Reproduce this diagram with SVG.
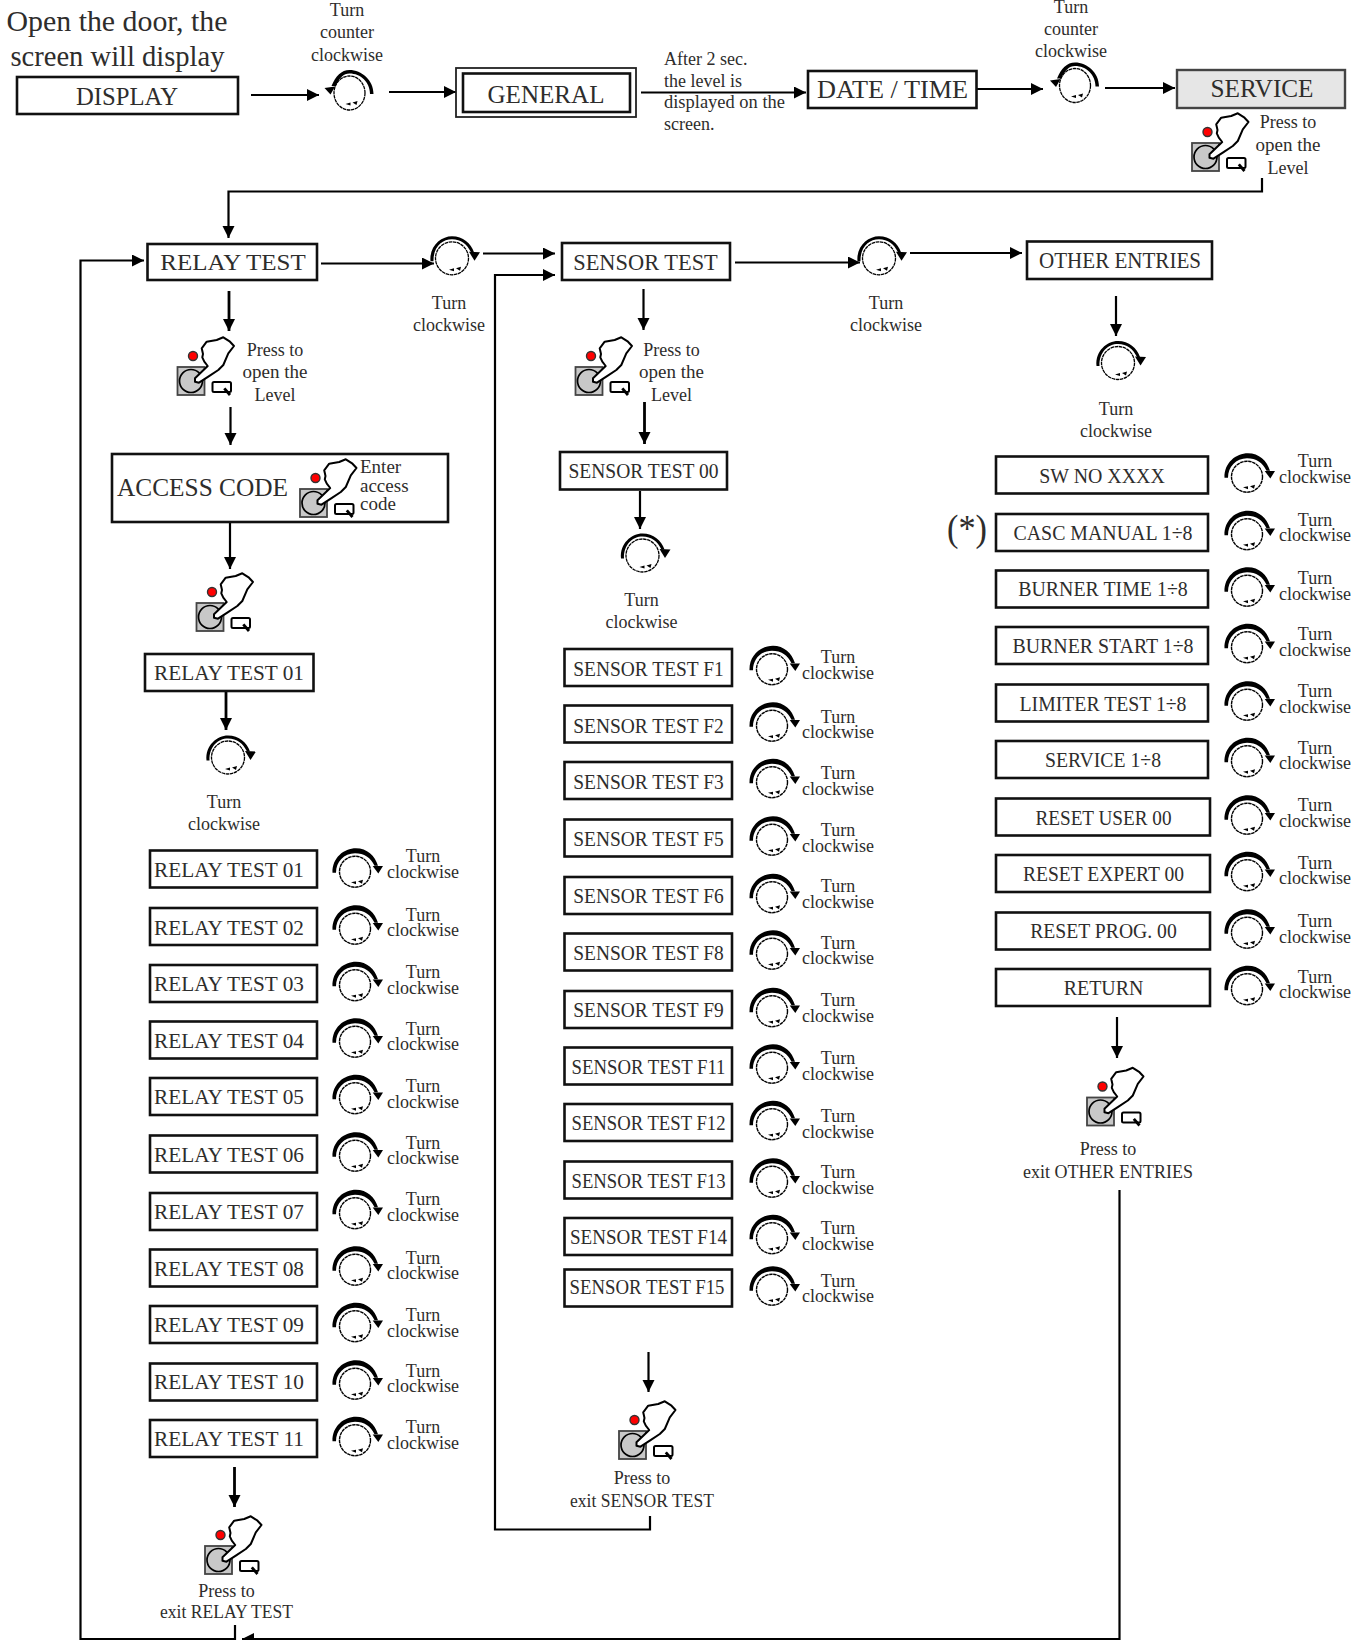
<svg xmlns="http://www.w3.org/2000/svg" width="1359" height="1640" viewBox="0 0 1359 1640">
<style>
text{font-family:"Liberation Serif","Times New Roman",serif;fill:#2e2d2c}
.t{font-size:18px;text-anchor:middle}
.o{font-size:19px;text-anchor:middle}
.tl{font-size:18px}
.r{font-size:20.5px;text-anchor:middle}
.h{font-size:24px;text-anchor:middle}
.b{fill:#fff;stroke:#111;stroke-width:2.6}
.c{fill:none;stroke:#000;stroke-width:2.2}
.c2{fill:none;stroke:#000;stroke-width:2.8}
</style>
<defs>
<marker id="a" markerUnits="userSpaceOnUse" markerWidth="14" markerHeight="14" refX="12" refY="6" orient="auto"><path d="M0,0L12,6L0,12Z" fill="#000"/></marker>
<g id="hand">
<rect x="0" y="0" width="27" height="28" fill="#c8c8c8" stroke="#444" stroke-width="1.8"/>
<circle cx="13.500" cy="14" r="11.500" fill="#c8c8c8" stroke="#000" stroke-width="1.7"/>
<path d="M17.500,11.300L30.200,-1L26.800,-5.300L24.800,-9.700L25.500,-13L24.200,-18.700L29.200,-25.300L39.200,-27L45.800,-29.700L52.500,-25.300L56.500,-21L50.800,-13.700L45.800,-2L40.800,3L30.800,9.700L21.500,15.700L17.500,14.700Z" fill="#fff" stroke="#000" stroke-width="2" stroke-linejoin="round"/>
<circle cx="15.500" cy="-11" r="4.500" fill="#f00" stroke="#333" stroke-width="1.400"/>
<rect x="35" y="15" width="18.500" height="10" rx="1.500" fill="#fff" stroke="#000" stroke-width="2"/>
<path d="M46.800,21.300L52.500,28" fill="none" stroke="#000" stroke-width="2.800"/>
</g>
<g id="cw">
<g transform="translate(1,1.700)">
<circle r="15.500" fill="#fff" stroke="#000" stroke-width="1.400" stroke-dasharray="3.500 .6"/>
<path d="M-22.500,1C-23,-14 -11,-23.500 1,-23.500C12,-23.500 20,-16 23,-6L19.500,-6C16,-14 9,-18.500 0,-18.500C-11,-18.500 -19,-10 -19,1Z" fill="#000"/>
<path d="M17.700,-5.700L28,-5.700L23.300,1.700Z" fill="#000"/>
<path d="M-4,10.500L1,9.500L1,12.500ZM3,9.500L8,8L7,12Z" fill="#000"/>
</g>
</g>
<g id="cw2">
<circle r="16.500" fill="#fff" stroke="#000" stroke-width="1.300" stroke-dasharray="3.500 .6"/>
<path d="M-21.500,3C-23,-12 -11,-22 0,-22C11,-22 19,-15 22,-6L19,-6C15,-14 9,-19 0,-19C-10,-19 -19,-11 -18.500,3Z" fill="#000"/>
<path d="M17,-6.500L28,-6L22.500,2.500Z" fill="#000"/>
<path d="M-3,11.500L2,10L2,13ZM4,10L9,8.500L8,12.500Z" fill="#000"/>
</g>
<g id="ccw">
<ellipse rx="15.500" ry="17" fill="#fff" stroke="#000" stroke-width="1.300" stroke-dasharray="3.500 .6"/>
<path d="M24,1C24,-13 12,-23 0,-23C-8,-23 -14,-17 -18,-7L-14,-7C-10,-15 -6,-19.500 0,-19.500C11,-19.500 20.500,-11 20.500,1Z" fill="#000"/>
<path d="M-25,-5L-14.500,-6.500L-19,1.500Z" fill="#000"/>
<path d="M-4,11L1,9.500L1,12.500ZM3,9.500L8,8L7,12Z" fill="#000"/>
</g>
</defs>
<rect width="1359" height="1640" fill="#fff"/>
<g id="connectors">
<path class="c" marker-end="url(#a)" d="M251,95H319"/>
<path class="c" marker-end="url(#a)" d="M389,92H456"/>
<path class="c" marker-end="url(#a)" d="M641,92.500H806"/>
<path class="c" marker-end="url(#a)" d="M977,89H1043"/>
<path class="c" marker-end="url(#a)" d="M1105,88H1175"/>
<path class="c" marker-end="url(#a)" d="M1262,178V191.500H228.500V238"/>
<path class="c" marker-end="url(#a)" d="M235,1625V1639H80.500V260.500H144"/>
<path class="c" marker-end="url(#a)" d="M321,263.500H434"/>
<path class="c" marker-end="url(#a)" d="M483,253.500H555"/>
<path class="c" marker-end="url(#a)" d="M735,262.500H860"/>
<path class="c" marker-end="url(#a)" d="M910,253H1022"/>
<path class="c" marker-end="url(#a)" d="M650,1516V1529.500H495V275H555"/>
<path class="c" marker-end="url(#a)" d="M1119.500,1190V1639H242"/>
<path class="c2" marker-end="url(#a)" d="M229,291V331"/>
<path class="c" marker-end="url(#a)" d="M230.500,407V445"/>
<path class="c" marker-end="url(#a)" d="M230,522V569"/>
<path class="c2" marker-end="url(#a)" d="M226,692V730"/>
<path class="c2" marker-end="url(#a)" d="M234.500,1467V1507"/>
<path class="c" marker-end="url(#a)" d="M643.500,289V330"/>
<path class="c2" marker-end="url(#a)" d="M644.500,402V444"/>
<path class="c" marker-end="url(#a)" d="M640,491V529"/>
<path class="c" marker-end="url(#a)" d="M648.500,1352V1392"/>
<path class="c" marker-end="url(#a)" d="M1116,296V336"/>
<path class="c" marker-end="url(#a)" d="M1117,1017V1058"/>
</g>
<g id="intro"><text x="117" y="31" font-size="29" textLength="221" lengthAdjust="spacingAndGlyphs" text-anchor="middle">Open the door, the</text><text x="117.500" y="65.500" font-size="29" textLength="214" lengthAdjust="spacingAndGlyphs" text-anchor="middle">screen will display</text></g>
<g id="display"><rect class="b" x="17" y="77" width="221" height="37"/><text x="127" y="105" font-size="26" textLength="102" lengthAdjust="spacingAndGlyphs" text-anchor="middle">DISPLAY</text></g>
<g id="knob1"><use href="#ccw" x="349.500" y="93"/><text class="t" x="347" y="16">Turn</text><text class="t" x="347" y="38">counter</text><text class="t" x="347" y="61">clockwise</text></g>
<g id="general"><rect fill="#fff" stroke="#222" stroke-width="1.800" x="456" y="68" width="180" height="49"/><rect class="b" x="463" y="73.500" width="167" height="38.500"/><text x="546" y="103" font-size="26" textLength="117" lengthAdjust="spacingAndGlyphs" text-anchor="middle">GENERAL</text></g>
<g id="note"><text class="tl" x="664" y="65">After 2 sec.</text><text class="tl" x="664" y="87">the level is</text><text class="tl" x="664" y="108" textLength="121" lengthAdjust="spacingAndGlyphs">displayed on the</text><text class="tl" x="664" y="130">screen.</text></g>
<g id="datetime"><rect class="b" x="808" y="71" width="168.500" height="37"/><text x="892.500" y="98" font-size="26" textLength="151" lengthAdjust="spacingAndGlyphs" text-anchor="middle">DATE / TIME</text></g>
<g id="knob2"><use href="#ccw" x="1075" y="85.500"/><text class="t" x="1071" y="13">Turn</text><text class="t" x="1071" y="35">counter</text><text class="t" x="1071" y="57">clockwise</text></g>
<g id="service"><rect fill="#e6e6e6" stroke="#444" stroke-width="2.400" x="1177" y="70" width="168" height="38"/><text x="1262" y="97" font-size="26" textLength="103" lengthAdjust="spacingAndGlyphs" text-anchor="middle">SERVICE</text><use href="#hand" x="1192" y="143"/><text class="t" x="1288" y="128">Press to</text><text class="o" x="1288" y="151">open the</text><text class="t" x="1288" y="174">Level</text></g>
<g id="relay-head"><rect class="b" x="147.500" y="244" width="169.500" height="36"/><text class="h" x="233" y="270" textLength="145.500" lengthAdjust="spacingAndGlyphs">RELAY TEST</text><use href="#cw2" x="452" y="258.300"/><text class="t" x="449" y="309">Turn</text><text class="t" x="449" y="331">clockwise</text></g>
<g id="sensor-head"><rect class="b" x="562" y="243" width="168" height="37"/><text class="h" x="645.500" y="270" textLength="144.500" lengthAdjust="spacingAndGlyphs">SENSOR TEST</text><use href="#cw2" x="879" y="258.300"/><text class="t" x="886" y="309">Turn</text><text class="t" x="886" y="331">clockwise</text></g>
<g id="other-head"><rect class="b" x="1027" y="241.500" width="185" height="37.500"/><text x="1120" y="268" font-size="24" textLength="162" lengthAdjust="spacingAndGlyphs" text-anchor="middle">OTHER ENTRIES</text><use href="#cw2" x="1118" y="363"/><text class="t" x="1116" y="415">Turn</text><text class="t" x="1116" y="437">clockwise</text></g>
<g id="relay-press"><use href="#hand" x="177.500" y="367"/><text class="t" x="275" y="356">Press to</text><text class="o" x="275" y="378">open the</text><text class="t" x="275" y="401">Level</text></g>
<g id="access"><rect class="b" x="112" y="454" width="336" height="68"/><text x="117" y="495.500" font-size="25.500" textLength="171" lengthAdjust="spacingAndGlyphs">ACCESS CODE</text><use href="#hand" x="300" y="489"/><text x="360" y="473" font-size="19">Enter</text><text x="360" y="491.500" font-size="19">access</text><text x="360" y="510" font-size="19">code</text></g>
<g id="relay-press2"><use href="#hand" x="196.500" y="603"/></g>
<g id="relay-start"><rect class="b" x="145" y="654" width="168.500" height="37"/><text class="r" x="229" y="680" textLength="150" lengthAdjust="spacingAndGlyphs">RELAY TEST 01</text><use href="#cw2" x="228" y="757.500"/><text class="t" x="224" y="808">Turn</text><text class="t" x="224" y="830">clockwise</text></g>
<g id="relay-01"><rect class="b" x="150" y="850.500" width="167" height="37"/><text class="r" x="229" y="876.500" textLength="150" lengthAdjust="spacingAndGlyphs">RELAY TEST 01</text><use href="#cw" x="354" y="870"/><text class="t" x="423" y="862">Turn</text><text class="t" x="423" y="877.500">clockwise</text></g>
<g id="relay-02"><rect class="b" x="150" y="908" width="167" height="37"/><text class="r" x="229" y="934.500" textLength="150" lengthAdjust="spacingAndGlyphs">RELAY TEST 02</text><use href="#cw" x="354" y="927"/><text class="t" x="423" y="920.500">Turn</text><text class="t" x="423" y="936">clockwise</text></g>
<g id="relay-03"><rect class="b" x="150" y="965" width="167" height="37"/><text class="r" x="229" y="991" textLength="150" lengthAdjust="spacingAndGlyphs">RELAY TEST 03</text><use href="#cw" x="354" y="983.500"/><text class="t" x="423" y="978">Turn</text><text class="t" x="423" y="993.500">clockwise</text></g>
<g id="relay-04"><rect class="b" x="150" y="1021.500" width="167" height="37"/><text class="r" x="229" y="1047.500" textLength="150" lengthAdjust="spacingAndGlyphs">RELAY TEST 04</text><use href="#cw" x="354" y="1040"/><text class="t" x="423" y="1034.500">Turn</text><text class="t" x="423" y="1049.500">clockwise</text></g>
<g id="relay-05"><rect class="b" x="150" y="1078" width="167" height="37"/><text class="r" x="229" y="1104" textLength="150" lengthAdjust="spacingAndGlyphs">RELAY TEST 05</text><use href="#cw" x="354" y="1096.500"/><text class="t" x="423" y="1092">Turn</text><text class="t" x="423" y="1107.500">clockwise</text></g>
<g id="relay-06"><rect class="b" x="150" y="1135.500" width="167" height="37"/><text class="r" x="229" y="1161.500" textLength="150" lengthAdjust="spacingAndGlyphs">RELAY TEST 06</text><use href="#cw" x="354" y="1154"/><text class="t" x="423" y="1148.500">Turn</text><text class="t" x="423" y="1164">clockwise</text></g>
<g id="relay-07"><rect class="b" x="150" y="1193" width="167" height="37"/><text class="r" x="229" y="1219" textLength="150" lengthAdjust="spacingAndGlyphs">RELAY TEST 07</text><use href="#cw" x="354" y="1211.500"/><text class="t" x="423" y="1205">Turn</text><text class="t" x="423" y="1220.500">clockwise</text></g>
<g id="relay-08"><rect class="b" x="150" y="1249.500" width="167" height="37"/><text class="r" x="229" y="1275.500" textLength="150" lengthAdjust="spacingAndGlyphs">RELAY TEST 08</text><use href="#cw" x="354" y="1268"/><text class="t" x="423" y="1263.500">Turn</text><text class="t" x="423" y="1279">clockwise</text></g>
<g id="relay-09"><rect class="b" x="150" y="1306" width="167" height="37"/><text class="r" x="229" y="1332" textLength="150" lengthAdjust="spacingAndGlyphs">RELAY TEST 09</text><use href="#cw" x="354" y="1324.500"/><text class="t" x="423" y="1321">Turn</text><text class="t" x="423" y="1336.500">clockwise</text></g>
<g id="relay-10"><rect class="b" x="150" y="1363.500" width="167" height="37"/><text class="r" x="229" y="1389" textLength="150" lengthAdjust="spacingAndGlyphs">RELAY TEST 10</text><use href="#cw" x="354" y="1382"/><text class="t" x="423" y="1376.500">Turn</text><text class="t" x="423" y="1392">clockwise</text></g>
<g id="relay-11"><rect class="b" x="150" y="1420" width="167" height="37"/><text class="r" x="229" y="1445.500" textLength="150" lengthAdjust="spacingAndGlyphs">RELAY TEST 11</text><use href="#cw" x="354" y="1438.500"/><text class="t" x="423" y="1433">Turn</text><text class="t" x="423" y="1448.500">clockwise</text></g>
<g id="relay-exit"><use href="#hand" x="205" y="1546"/><text class="t" x="226.500" y="1597">Press to</text><text class="t" x="226.500" y="1618" textLength="133" lengthAdjust="spacingAndGlyphs">exit RELAY TEST</text></g>
<g id="sensor-press"><use href="#hand" x="575.500" y="367"/><text class="t" x="671.500" y="356">Press to</text><text class="o" x="671.500" y="378">open the</text><text class="t" x="671.500" y="401">Level</text></g>
<g id="sensor-00"><rect class="b" x="560" y="452" width="167" height="37.500"/><text class="r" x="643.500" y="478" textLength="150" lengthAdjust="spacingAndGlyphs">SENSOR TEST 00</text><use href="#cw2" x="642.500" y="555.500"/><text class="t" x="641.500" y="605.500">Turn</text><text class="t" x="641.500" y="627.500">clockwise</text></g>
<g id="sensor-f1"><rect class="b" x="564.500" y="649" width="167.500" height="37"/><text class="r" x="648.500" y="675.500" textLength="150.500" lengthAdjust="spacingAndGlyphs">SENSOR TEST F1</text><use href="#cw" x="771" y="667.500"/><text class="t" x="838" y="663">Turn</text><text class="t" x="838" y="679">clockwise</text></g>
<g id="sensor-f2"><rect class="b" x="564.500" y="705.500" width="167.500" height="37"/><text class="r" x="648.500" y="732.500" textLength="150.500" lengthAdjust="spacingAndGlyphs">SENSOR TEST F2</text><use href="#cw" x="771" y="724"/><text class="t" x="838" y="723">Turn</text><text class="t" x="838" y="738">clockwise</text></g>
<g id="sensor-f3"><rect class="b" x="564.500" y="762" width="167.500" height="37"/><text class="r" x="648.500" y="789" textLength="150.500" lengthAdjust="spacingAndGlyphs">SENSOR TEST F3</text><use href="#cw" x="771" y="780.500"/><text class="t" x="838" y="779">Turn</text><text class="t" x="838" y="795">clockwise</text></g>
<g id="sensor-f5"><rect class="b" x="564.500" y="819.500" width="167.500" height="37"/><text class="r" x="648.500" y="846" textLength="150.500" lengthAdjust="spacingAndGlyphs">SENSOR TEST F5</text><use href="#cw" x="771" y="838"/><text class="t" x="838" y="836">Turn</text><text class="t" x="838" y="851.500">clockwise</text></g>
<g id="sensor-f6"><rect class="b" x="564.500" y="877" width="167.500" height="37"/><text class="r" x="648.500" y="903" textLength="150.500" lengthAdjust="spacingAndGlyphs">SENSOR TEST F6</text><use href="#cw" x="771" y="895.500"/><text class="t" x="838" y="892">Turn</text><text class="t" x="838" y="908">clockwise</text></g>
<g id="sensor-f8"><rect class="b" x="564.500" y="933.500" width="167.500" height="37"/><text class="r" x="648.500" y="959.500" textLength="150.500" lengthAdjust="spacingAndGlyphs">SENSOR TEST F8</text><use href="#cw" x="771" y="952"/><text class="t" x="838" y="949">Turn</text><text class="t" x="838" y="964">clockwise</text></g>
<g id="sensor-f9"><rect class="b" x="564.500" y="991" width="167.500" height="37"/><text class="r" x="648.500" y="1017" textLength="150.500" lengthAdjust="spacingAndGlyphs">SENSOR TEST F9</text><use href="#cw" x="771" y="1009.500"/><text class="t" x="838" y="1006">Turn</text><text class="t" x="838" y="1022">clockwise</text></g>
<g id="sensor-f11"><rect class="b" x="564.500" y="1047.500" width="167.500" height="37"/><text class="r" x="648.500" y="1073.500" textLength="154" lengthAdjust="spacingAndGlyphs">SENSOR TEST F11</text><use href="#cw" x="771" y="1066"/><text class="t" x="838" y="1064">Turn</text><text class="t" x="838" y="1080">clockwise</text></g>
<g id="sensor-f12"><rect class="b" x="564.500" y="1104" width="167.500" height="37"/><text class="r" x="648.500" y="1130" textLength="154" lengthAdjust="spacingAndGlyphs">SENSOR TEST F12</text><use href="#cw" x="771" y="1122.500"/><text class="t" x="838" y="1122">Turn</text><text class="t" x="838" y="1138">clockwise</text></g>
<g id="sensor-f13"><rect class="b" x="564.500" y="1161.500" width="167.500" height="37"/><text class="r" x="648.500" y="1187.500" textLength="154" lengthAdjust="spacingAndGlyphs">SENSOR TEST F13</text><use href="#cw" x="771" y="1180"/><text class="t" x="838" y="1178">Turn</text><text class="t" x="838" y="1193.500">clockwise</text></g>
<g id="sensor-f14"><rect class="b" x="564.500" y="1218" width="167.500" height="37"/><text class="r" x="648.500" y="1244" textLength="157" lengthAdjust="spacingAndGlyphs">SENSOR TEST F14</text><use href="#cw" x="771" y="1236.500"/><text class="t" x="838" y="1234">Turn</text><text class="t" x="838" y="1250">clockwise</text></g>
<g id="sensor-f15"><rect class="b" x="564.500" y="1269.500" width="167.500" height="37"/><text class="r" x="647" y="1293.500" textLength="155" lengthAdjust="spacingAndGlyphs">SENSOR TEST F15</text><use href="#cw" x="771" y="1288"/><text class="t" x="838" y="1286.500">Turn</text><text class="t" x="838" y="1302">clockwise</text></g>
<g id="sensor-exit"><use href="#hand" x="619" y="1431"/><text class="t" x="642" y="1484">Press to</text><text class="t" x="642" y="1507" textLength="144" lengthAdjust="spacingAndGlyphs">exit SENSOR TEST</text></g>
<g id="other-sw"><rect class="b" x="996" y="456.500" width="212" height="37"/><text class="r" x="1102" y="483" textLength="125.500" lengthAdjust="spacingAndGlyphs">SW NO XXXX</text><use href="#cw" x="1246" y="475"/><text class="t" x="1315" y="467">Turn</text><text class="t" x="1315" y="482.500">clockwise</text></g>
<g id="other-casc"><rect class="b" x="996" y="514" width="212" height="37"/><text class="r" x="1103" y="540" textLength="179" lengthAdjust="spacingAndGlyphs">CASC MANUAL 1÷8</text><use href="#cw" x="1246" y="532.500"/><text class="t" x="1315" y="525.500">Turn</text><text class="t" x="1315" y="541">clockwise</text><text x="967" y="541" font-size="38" textLength="40" lengthAdjust="spacingAndGlyphs" text-anchor="middle">(*)</text></g>
<g id="other-burner-time"><rect class="b" x="996" y="570.500" width="212" height="37"/><text class="r" x="1103" y="596" textLength="169.500" lengthAdjust="spacingAndGlyphs">BURNER TIME 1÷8</text><use href="#cw" x="1246" y="589"/><text class="t" x="1315" y="584">Turn</text><text class="t" x="1315" y="599.500">clockwise</text></g>
<g id="other-burner-start"><rect class="b" x="996" y="627" width="212" height="37"/><text class="r" x="1103" y="653" textLength="181" lengthAdjust="spacingAndGlyphs">BURNER START 1÷8</text><use href="#cw" x="1246" y="645.500"/><text class="t" x="1315" y="640">Turn</text><text class="t" x="1315" y="655.500">clockwise</text></g>
<g id="other-limiter"><rect class="b" x="996" y="684.500" width="212" height="37"/><text class="r" x="1103" y="710.500" textLength="167" lengthAdjust="spacingAndGlyphs">LIMITER TEST 1÷8</text><use href="#cw" x="1246" y="703"/><text class="t" x="1315" y="697">Turn</text><text class="t" x="1315" y="712.500">clockwise</text></g>
<g id="other-service"><rect class="b" x="996" y="741" width="212" height="37"/><text class="r" x="1103" y="767" textLength="116" lengthAdjust="spacingAndGlyphs">SERVICE 1÷8</text><use href="#cw" x="1246" y="759.500"/><text class="t" x="1315" y="753.500">Turn</text><text class="t" x="1315" y="769">clockwise</text></g>
<g id="other-reset-user"><rect class="b" x="996" y="798.500" width="214" height="37"/><text class="r" x="1103.500" y="824.500" textLength="136" lengthAdjust="spacingAndGlyphs">RESET USER 00</text><use href="#cw" x="1246" y="817"/><text class="t" x="1315" y="811">Turn</text><text class="t" x="1315" y="826.500">clockwise</text></g>
<g id="other-reset-expert"><rect class="b" x="996" y="855" width="214" height="37"/><text class="r" x="1103.500" y="881" textLength="161" lengthAdjust="spacingAndGlyphs">RESET EXPERT 00</text><use href="#cw" x="1246" y="873.500"/><text class="t" x="1315" y="868.500">Turn</text><text class="t" x="1315" y="884">clockwise</text></g>
<g id="other-reset-prog"><rect class="b" x="996" y="912.500" width="214" height="37"/><text class="r" x="1103.500" y="938" textLength="146.500" lengthAdjust="spacingAndGlyphs">RESET PROG. 00</text><use href="#cw" x="1246" y="931"/><text class="t" x="1315" y="927">Turn</text><text class="t" x="1315" y="942.500">clockwise</text></g>
<g id="other-return"><rect class="b" x="996" y="969" width="214" height="37"/><text class="r" x="1103.500" y="995" textLength="79.500" lengthAdjust="spacingAndGlyphs">RETURN</text><use href="#cw" x="1246" y="987.500"/><text class="t" x="1315" y="982.500">Turn</text><text class="t" x="1315" y="998">clockwise</text></g>
<g id="other-exit"><use href="#hand" x="1087" y="1097.500"/><text class="t" x="1108" y="1154.500">Press to</text><text class="t" x="1108" y="1177.500">exit OTHER ENTRIES</text></g>
</svg>
